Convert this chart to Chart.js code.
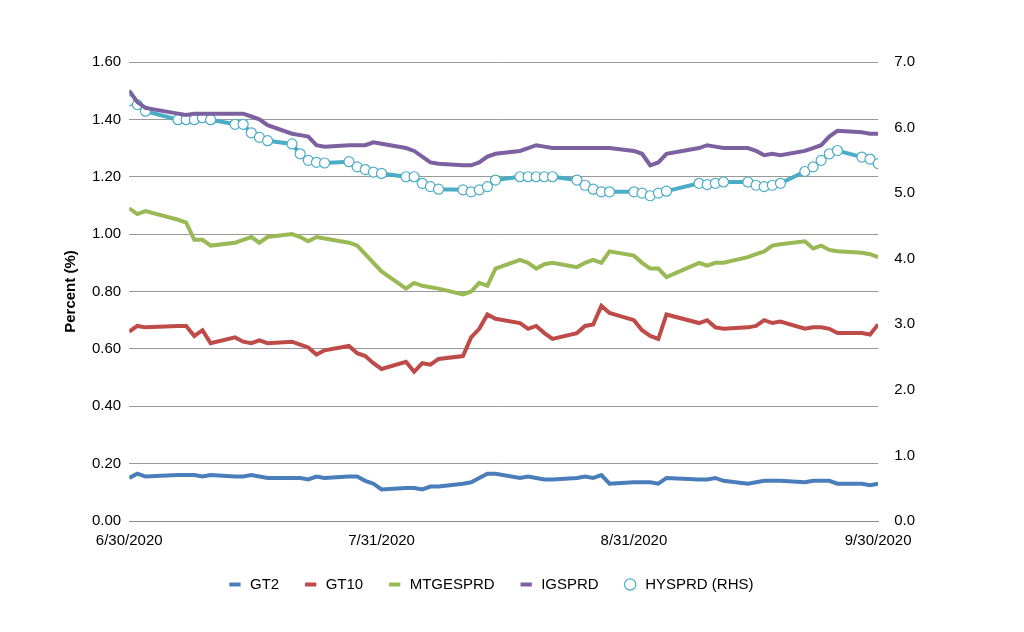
<!DOCTYPE html>
<html><head><meta charset="utf-8">
<script src="https://cdn.jsdelivr.net/npm/chart.js@4"></script>
<style>html,body{margin:0;background:#fff}#w{width:1024px;height:632px}</style>
</head><body><div id="w"><canvas id="c"></canvas></div>
<script>
const dates=["6/30/2020","7/1/2020","7/2/2020","7/6/2020","7/7/2020","7/8/2020","7/9/2020","7/10/2020","7/13/2020","7/14/2020","7/15/2020","7/16/2020","7/17/2020","7/20/2020","7/21/2020","7/22/2020","7/23/2020","7/24/2020","7/27/2020","7/28/2020","7/29/2020","7/30/2020","7/31/2020","8/3/2020","8/4/2020","8/5/2020","8/6/2020","8/7/2020","8/10/2020","8/11/2020","8/12/2020","8/13/2020","8/14/2020","8/17/2020","8/18/2020","8/19/2020","8/20/2020","8/21/2020","8/24/2020","8/25/2020","8/26/2020","8/27/2020","8/28/2020","8/31/2020","9/1/2020","9/2/2020","9/3/2020","9/4/2020","9/8/2020","9/9/2020","9/10/2020","9/11/2020","9/14/2020","9/15/2020","9/16/2020","9/17/2020","9/18/2020","9/21/2020","9/22/2020","9/23/2020","9/24/2020","9/25/2020","9/28/2020","9/29/2020","9/30/2020"];
const tickLabels=["6/30/2020","7/31/2020","8/31/2020","9/30/2020"];
const GT2=[.15,.165,.155,.16,.16,.16,.155,.16,.155,.155,.16,.155,.15,.15,.15,.145,.155,.15,.155,.155,.14,.13,.11,.115,.115,.11,.12,.12,.13,.135,.15,.165,.165,.15,.155,.15,.145,.145,.15,.155,.15,.16,.13,.135,.135,.135,.13,.15,.145,.145,.15,.14,.13,.135,.14,.14,.14,.135,.14,.14,.14,.13,.13,.125,.13];
const GT10=[.66,.68,.675,.68,.68,.645,.665,.62,.64,.625,.62,.63,.62,.625,.615,.605,.58,.595,.61,.585,.575,.55,.53,.555,.52,.55,.545,.565,.575,.64,.67,.72,.705,.69,.67,.68,.655,.635,.655,.68,.685,.75,.725,.70,.665,.645,.635,.72,.69,.70,.675,.67,.675,.68,.70,.69,.695,.67,.675,.675,.67,.655,.655,.65,.685];
const MTGESPRD=[1.09,1.07,1.08,1.05,1.04,.98,.98,.96,.97,.98,.99,.97,.99,1.0,.99,.975,.99,.985,.97,.96,.93,.90,.87,.81,.83,.82,.815,.81,.79,.80,.83,.82,.88,.91,.90,.88,.895,.90,.885,.90,.91,.90,.94,.925,.90,.88,.88,.85,.90,.89,.90,.90,.92,.93,.94,.96,.965,.975,.95,.96,.945,.94,.935,.93,.92];
const IGSPRD=[1.50,1.46,1.44,1.42,1.415,1.42,1.42,1.42,1.42,1.42,1.41,1.40,1.38,1.35,1.345,1.34,1.31,1.305,1.31,1.31,1.31,1.32,1.315,1.30,1.29,1.27,1.25,1.245,1.24,1.24,1.25,1.27,1.28,1.29,1.30,1.31,1.305,1.30,1.30,1.30,1.30,1.30,1.30,1.29,1.28,1.24,1.25,1.28,1.30,1.31,1.305,1.30,1.30,1.29,1.275,1.28,1.275,1.29,1.30,1.31,1.34,1.36,1.355,1.35,1.35];
const HYSPRD=[6.41,6.35,6.25,6.12,6.12,6.12,6.15,6.12,6.05,6.05,5.92,5.85,5.8,5.75,5.6,5.5,5.47,5.46,5.48,5.4,5.36,5.32,5.3,5.25,5.25,5.15,5.1,5.06,5.05,5.02,5.05,5.1,5.2,5.25,5.25,5.25,5.25,5.25,5.2,5.12,5.06,5.02,5.02,5.02,5.0,4.96,5.0,5.03,5.15,5.13,5.15,5.17,5.17,5.12,5.1,5.12,5.15,5.33,5.4,5.5,5.6,5.65,5.55,5.52,5.45];
const t0=new Date(dates[0]);
const day=s=>Math.round((new Date(s)-t0)/864e5);
const xs=dates.map(day);
const tickPos=tickLabels.map(day);
const pts=a=>a.map((v,i)=>({x:xs[i],y:v}));
const FONT='Liberation Sans, Arial';
const ln=(label,data,color)=>({label,data:pts(data),borderColor:color,backgroundColor:color,borderWidth:4,pointRadius:0,pointStyle:'line',yAxisID:'y',tension:0});
const rightTitle={id:'rt',afterDraw(c){const ctx=c.ctx,a=c.chartArea;ctx.save();ctx.translate(a.right+80,(a.top+a.bottom)/2);ctx.rotate(-Math.PI/2);ctx.font='bold 15px '+FONT;ctx.fillStyle='#000';ctx.textAlign='center';ctx.textBaseline='middle';ctx.fillText('Percent (%)',0,0);ctx.restore();}};
new Chart(document.getElementById('c'),{type:'line',
data:{datasets:[ln('GT2',GT2,'#4a7ebb'),ln('GT10',GT10,'#be4b48'),ln('MTGESPRD',MTGESPRD,'#98b954'),ln('IGSPRD',IGSPRD,'#7d60a0'),
{label:'HYSPRD (RHS)',data:pts(HYSPRD),borderColor:'#4bacc6',backgroundColor:'#fff',borderWidth:4,pointRadius:5,pointBorderWidth:1.2,pointBorderColor:'#4bacc6',pointStyle:'circle',yAxisID:'y1'}]},
options:{responsive:true,maintainAspectRatio:false,animation:false,
layout:{padding:{left:58,right:101,top:62,bottom:30}},
plugins:{legend:{position:'bottom',labels:{usePointStyle:true,boxHeight:8,padding:24,color:'#000',font:{family:FONT,size:15}}},tooltip:{enabled:false}},
scales:{
x:{type:'linear',min:0,max:92,afterBuildTicks:s=>{s.ticks=tickPos.map(v=>({value:v}));},
ticks:{callback:v=>tickLabels[tickPos.indexOf(v)]||'',color:'#000',font:{family:FONT,size:15},maxRotation:0,autoSkip:false},
grid:{display:false,drawTicks:true},border:{color:'#888'}},
y:{position:'left',min:0,max:1.6,ticks:{stepSize:0.2,callback:v=>v.toFixed(2),color:'#000',font:{family:FONT,size:15},padding:8},
grid:{color:'#999',drawTicks:false},border:{display:false},
title:{display:true,text:'Percent (%)',color:'#000',font:{family:FONT,size:15,weight:'bold'}}},
y1:{position:'right',min:0,max:7,ticks:{stepSize:1,callback:v=>v.toFixed(1),color:'#000',font:{family:FONT,size:15},padding:8},
grid:{display:false},border:{display:false}}
}}},);
Chart.register(rightTitle);
</script></body></html>
